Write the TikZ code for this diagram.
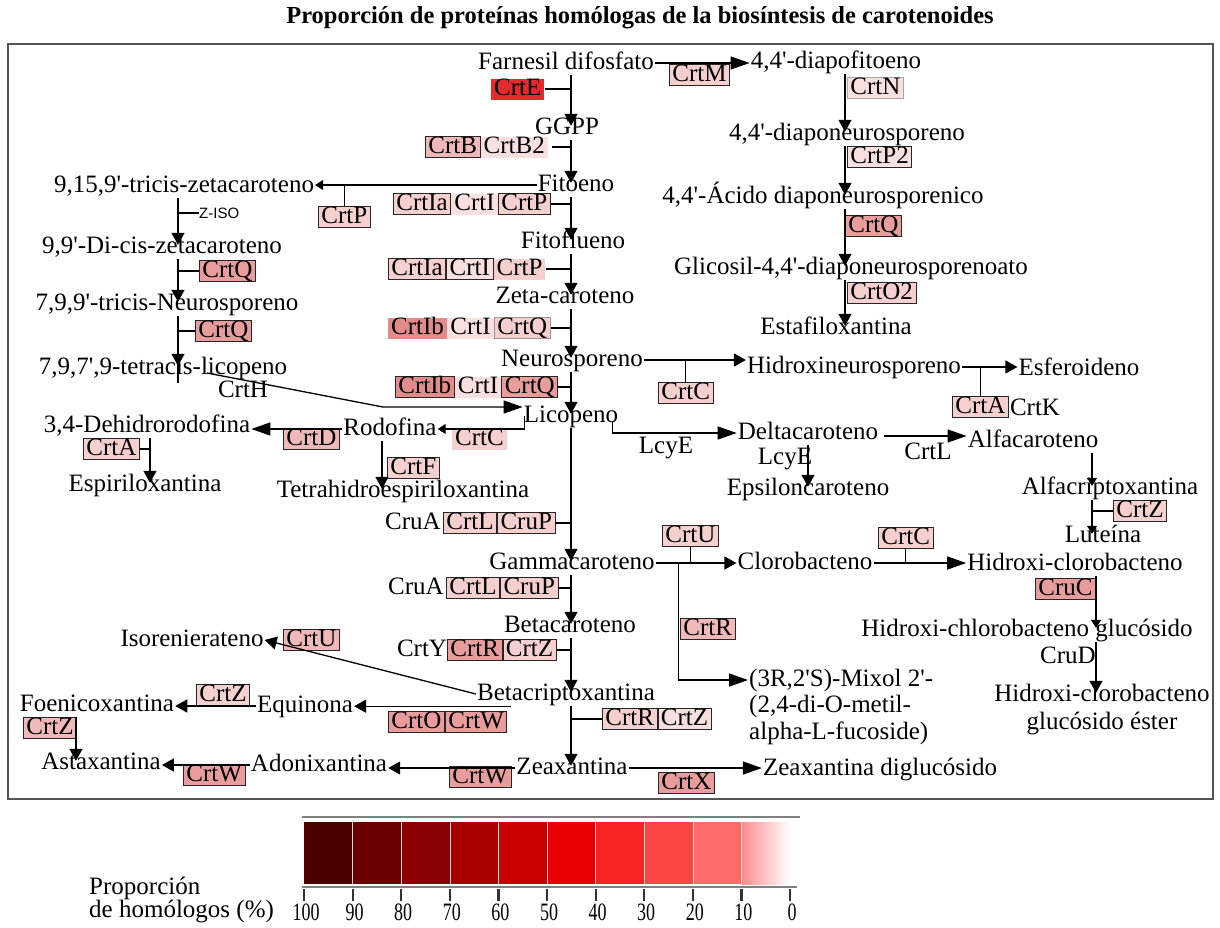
\documentclass[tikz,border=0pt]{standalone}
\usepackage{fontspec}
\newfontfamily\rf{Liberation Serif}
\newfontfamily\zs{Liberation Sans}
\usetikzlibrary{arrows.meta,calc}

% enzyme box fills (share of homologous proteins)
\definecolor{pk0}{HTML}{F9E0E0}
\definecolor{pk1}{HTML}{F6CFCF}
\definecolor{pk2}{HTML}{F0B9B9}
\definecolor{pk3}{HTML}{E89C9C}
\definecolor{pk4}{HTML}{E38A8A}
\definecolor{pkE}{HTML}{E42A2A}
% colour scale of the legend
\definecolor{lg0}{HTML}{4D0000}
\definecolor{lg1}{HTML}{6B0000}
\definecolor{lg2}{HTML}{8B0000}
\definecolor{lg3}{HTML}{A80000}
\definecolor{lg4}{HTML}{C80000}
\definecolor{lg5}{HTML}{E80000}
\definecolor{lg6}{HTML}{F82424}
\definecolor{lg7}{HTML}{FC4646}
\definecolor{lg8}{HTML}{FD6A6A}
\definecolor{lg9}{HTML}{FF8C8C}
\definecolor{framegray}{HTML}{555555}

\begin{document}
\begin{tikzpicture}[x=1pt,y=-1pt,
  every node/.style={inner sep=0pt},
  lbl/.style={font=\rf\fontsize{25}{27}\selectfont, text height=17pt, text depth=5pt, inner xsep=1pt, inner ysep=1pt},
  enz/.style={font=\rf\fontsize{25}{27}\selectfont, text height=16pt, text depth=4pt, inner xsep=3pt, inner ysep=0.5pt, anchor=west},
  bx/.style={enz, draw=black!85, line width=0.9pt},
  ttl/.style={font=\rf\bfseries\fontsize{24.5}{28}\selectfont},
  ln/.style={line width=1.3pt, black},
  arr/.style={ln, -{Triangle[length=12pt,width=13pt]}},
  arrL/.style={ln, -{Triangle[length=19pt,width=13pt]}},
  arrS/.style={ln, -{Triangle[length=8pt,width=10pt]}},
  down/.style={shorten >=-10pt},
  num/.style={font=\rf\fontsize{25}{26}\selectfont, text height=16pt, text depth=0pt},
]
\useasboundingbox (0,0) rectangle (1220,927);
\fill[white] (0,0) rectangle (1220,927);

\node[ttl] (title) at (640,18) {Proporción de proteínas homólogas de la biosíntesis de carotenoides};
\draw[framegray, line width=2pt] (8,44) rectangle (1213,799);

% vertical guide positions
\coordinate (cx) at (571,0);
\coordinate (kx) at (845,0);
\coordinate (zx) at (178,0);
\coordinate (ax) at (150,0);
\coordinate (rx) at (382,0);
\coordinate (lx) at (1092,0);
\coordinate (hx) at (1096,0);
\coordinate (fx) at (76,0);

% ---------- metabolites ----------
\node[lbl] (fpp)   at (566,63)  {Farnesil difosfato};
\node[lbl] (ggpp)  at (567,128) {GGPP};
\node[lbl] (fito)  at (576,185) {Fitoeno};
\node[lbl] (fitf)  at (573,242) {Fitoflueno};
\node[lbl] (zeta)  at (565,297) {Zeta-caroteno};
\node[lbl] (neur)  at (572,360) {Neurosporeno};
\node[lbl] (lico)  at (571,416) {Licopeno};
\node[lbl] (gamma) at (572,563) {Gammacaroteno};
\node[lbl] (beta)  at (570,626) {Betacaroteno};
\node[lbl] (bcx)   at (566,694) {Betacriptoxantina};
\node[lbl] (zea)   at (572,768) {Zeaxantina};

\node[lbl] (dpf)   at (836,62)  {4,4'-diapofitoeno};
\node[lbl] (dnsp)  at (847,134) {4,4'-diaponeurosporeno};
\node[lbl] (acdn)  at (823,197) {4,4'-Ácido diaponeurosporenico};
\node[lbl] (glc)   at (851,268) {Glicosil-4,4'-diaponeurosporenoato};
\node[lbl] (esta)  at (836,328) {Estafiloxantina};

\node[lbl] (tzc)   at (184,186) {9,15,9'-tricis-zetacaroteno};
\node[lbl] (dcz)   at (162,247) {9,9'-Di-cis-zetacaroteno};
\node[lbl] (tneu)  at (167,304) {7,9,9'-tricis-Neurosporeno};
\node[lbl] (tlic)  at (163,368) {7,9,7',9-tetracis-licopeno};
\node[lbl] (dhr)   at (147,426) {3,4-Dehidrorodofina};
\node[lbl] (espi)  at (145,485) {Espiriloxantina};
\node[lbl] (rodo)  at (390,429) {Rodofina};
\node[lbl] (thes)  at (403,491) {Tetrahidroespiriloxantina};

\node[lbl] (hneu)  at (854,367) {Hidroxineurosporeno};
\node[lbl] (esfe)  at (1079,369) {Esferoideno};
\node[lbl] (delta) at (808,433) {Deltacaroteno};
\node[lbl] (eps)   at (808,489) {Epsiloncaroteno};
\node[lbl] (alfa)  at (1033,441) {Alfacaroteno};
\node[lbl] (alfx)  at (1110,488) {Alfacriptoxantina};
\node[lbl] (lute)  at (1103,536) {Luteína};

\node[lbl] (cloro) at (805,563) {Clorobacteno};
\node[lbl] (hcl)   at (1075,564) {Hidroxi-clorobacteno};
\node[lbl] (hclg)  at (1027,630) {Hidroxi-chlorobacteno glucósido};
\node[lbl] (hclgA) at (1102,695) {Hidroxi-clorobacteno};
\node[lbl] (hclgB) at (1102,723) {glucósido éster};
\node[lbl, anchor=west] (mix1) at (748,680) {(3R,2'S)-Mixol 2'-};
\node[lbl, anchor=west] (mix2) at (748,706) {(2,4-di-O-metil-};
\node[lbl, anchor=west] (mix3) at (748,733) {alpha-L-fucoside)};
\node[lbl] (zdg)   at (880,769) {Zeaxantina diglucósido};

\node[lbl] (isor)  at (192,640) {Isorenierateno};
\node[lbl] (equi)  at (305,706) {Equinona};
\node[lbl] (foen)  at (97,705)  {Foenicoxantina};
\node[lbl] (ador)  at (319,765) {Adonixantina};
\node[lbl] (asta)  at (101,763) {Astaxantina};

% ---------- enzyme names without box ----------
\node[lbl] (cruA1) at (413,523) {CruA};
\node[lbl] (cruA2) at (416,588) {CruA};
\node[lbl] (crtY)  at (422,650) {CrtY};
\node[lbl] (crtH)  at (243,391) {CrtH};
\node[lbl] (lcy1)  at (666,447) {LcyE};
\node[lbl] (lcy2)  at (785,458) {LcyE};
\node[lbl] (crtLt) at (928,453) {CrtL};
\node[lbl] (crtK)  at (1035,409) {CrtK};
\node[lbl] (cruD)  at (1068,657) {CruD};
\node[font=\zs\fontsize{15}{17}\selectfont, anchor=west] (ziso) at (199,213) {Z-ISO};

% ---------- enzyme boxes ----------
\node[enz, fill=pkE] (bE) at (491,89) {CrtE};
\node[bx, fill=pk1] (bM) at (669,75) {CrtM};
\node[bx, fill=pk0, draw=black!35] (bN) at (847,88) {CrtN};
\node[bx, fill=pk2] (bB) at (425,147) {CrtB};
\node[enz, fill=pk0] (bB2) at (bB.east) {CrtB2};
\node[bx, fill=pk1] (bPl) at (318,217) {CrtP};

\node[bx, fill=pk1] (r1a) at (393,204) {CrtIa};
\node[enz, fill=pk0] (r1b) at (r1a.east) {CrtI};
\node[bx, fill=pk1] (r1c) at (r1b.east) {CrtP};

\node[bx, fill=pk1] (r2a) at (388,269) {CrtIa};
\node[bx, fill=pk0] (r2b) at (r2a.east) {CrtI};
\node[enz, fill=pk1] (r2c) at (r2b.east) {CrtP};

\node[enz, fill=pk4] (r3a) at (388,328) {CrtIb};
\node[enz, fill=pk0] (r3b) at (r3a.east) {CrtI};
\node[bx, fill=pk1, draw=black!40] (r3c) at (r3b.east) {CrtQ};

\node[bx, fill=pk4] (r4a) at (395,387) {CrtIb};
\node[enz, fill=pk0] (r4b) at (r4a.east) {CrtI};
\node[bx, fill=pk3] (r4c) at (r4b.east) {CrtQ};

\node[bx, fill=pk0] (bP2) at (847,157) {CrtP2};
\node[bx, fill=pk3] (bQr) at (845,226) {CrtQ};
\node[bx, fill=pk1] (bO2) at (847,293) {CrtO2};

\node[bx, fill=pk3] (bQ1) at (199,271) {CrtQ};
\node[bx, fill=pk3] (bQ2) at (195,331) {CrtQ};

\node[enz, fill=pk1] (bCl) at (452,439) {CrtC};
\node[bx, fill=pk2] (bD) at (283,439) {CrtD};
\node[bx, fill=pk1] (bAl) at (83,449) {CrtA};
\node[bx, fill=pk1] (bF) at (387,468) {CrtF};

\node[bx, fill=pk1] (bCn) at (658,393) {CrtC};
\node[bx, fill=pk1] (bAr) at (952,407) {CrtA};
\node[bx, fill=pk1] (bZa) at (1113,511) {CrtZ};

\node[bx, fill=pk1] (g1) at (443,523) {CrtL};
\node[bx, fill=pk1] (g2) at (g1.east) {CruP};
\node[bx, fill=pk1] (h1) at (446,588) {CrtL};
\node[bx, fill=pk1] (h2) at (h1.east) {CruP};
\node[bx, fill=pk3] (k1) at (447,650) {CrtR};
\node[bx, fill=pk1] (k2) at (k1.east) {CrtZ};
\node[bx, fill=pk1] (z1) at (602,719) {CrtR};
\node[bx, fill=pk0] (z2) at (z1.east) {CrtZ};

\node[bx, fill=pk1] (bUg) at (662,536) {CrtU};
\node[bx, fill=pk2] (bRg) at (680,629) {CrtR};
\node[bx, fill=pk1] (bCc) at (878,538) {CrtC};
\node[bx, fill=pk3] (bCruC) at (1035,589) {CruC};

\node[bx, fill=pk3] (e1) at (388,722) {CrtO};
\node[bx, fill=pk3] (e2) at (e1.east) {CrtW};
\node[bx, fill=pk2] (bUi) at (283,640) {CrtU};
\node[bx, fill=pk1] (bZf) at (196,695) {CrtZ};
\node[bx, fill=pk2] (bZl) at (23,728) {CrtZ};
\node[bx, fill=pk3] (bWz) at (449,777) {CrtW};
\node[bx, fill=pk3] (bWa) at (183,775) {CrtW};
\node[bx, fill=pk3] (bX) at (658,783) {CrtX};

% ---------- main chain ----------
\draw[arr,down] (fpp.south -| cx) -- (ggpp.north -| cx);
\draw[ln] (bE.east) -- (bE.east -| cx);
\draw[arr,down] (ggpp.south -| cx) -- (fito.north -| cx);
\draw[ln] ($(bB2.east)+(4,0)$) -- (bB2.east -| cx);
\draw[arr,down] (fito.south -| cx) -- (fitf.north -| cx);
\draw[ln] (r1c.east) -- (r1c.east -| cx);
\draw[arr,down] (fitf.south -| cx) -- (zeta.north -| cx);
\draw[ln] (r2c.east) -- (r2c.east -| cx);
\draw[arr,down] (zeta.south -| cx) -- (neur.north -| cx);
\draw[ln] (r3c.east) -- (r3c.east -| cx);
\draw[arr,down] (neur.south -| cx) -- (lico.north -| cx);
\draw[ln] (r4c.east) -- (r4c.east -| cx);
\draw[arr,down] (lico.south -| cx) -- (gamma.north -| cx);
\draw[ln] (g2.east) -- (g2.east -| cx);
\draw[arr,down] (gamma.south -| cx) -- (beta.north -| cx);
\draw[ln] (h2.east) -- (h2.east -| cx);
\draw[arr,down] (beta.south -| cx) -- (bcx.north -| cx);
\draw[ln] (k2.east) -- (k2.east -| cx);
\draw[arr,down] (bcx.south -| cx) -- (zea.north -| cx);
\draw[ln] (z1.west) -- (z1.west -| cx);

% ---------- diapocarotenoid branch ----------
\draw[arrL] (fpp.east) -- (fpp.east -| dpf.west);
\draw[arr,down] (dpf.south -| kx) -- (dnsp.north -| kx);
\draw[arr,down] (dnsp.south -| kx) -- (acdn.north -| kx);
\draw[arr,down] (acdn.south -| kx) -- (glc.north -| kx);
\draw[arr,down] (glc.south -| kx) -- (esta.north -| kx);

% ---------- poly-cis branch ----------
\draw[arrS] (fito.west) -- (fito.west -| tzc.east);
\draw[ln] (bPl.north) -- (bPl.north |- fito.west);
\draw[arr,down] (tzc.south -| zx) -- (dcz.north -| zx);
\draw[ln] (ziso.west) -- (ziso.west -| zx);
\draw[arr,down] (dcz.south -| zx) -- (tneu.north -| zx);
\draw[ln] (bQ1.west) -- (bQ1.west -| zx);
\draw[arr,down] (tneu.south -| zx) -- (tlic.north -| zx);
\draw[ln] (bQ2.west) -- (bQ2.west -| zx);
\coordinate (tlc) at (tlic.center -| zx);
\draw[ln] ($(tlc)+(0,-6)$) -- ($(tlc)+(0,15)$);
\coordinate (hs) at (207,373);
\coordinate (hb) at (383,407);
\draw[arrL] (hs) -- (hb) -- (lico.west |- hb);

% ---------- rhodopin branch ----------
\draw[arrS] ($(lico.west)+(2,0)$) |- (rodo.east);
\draw[arrL] (rodo.west) -- (rodo.west -| dhr.east);
\draw[arr,down] (dhr.south -| ax) -- (espi.north -| ax);
\draw[ln] (bAl.east) -- (bAl.east -| ax);
\draw[arr,down] (rodo.south -| rx) -- (thes.north -| rx);

% ---------- spheroidene branch ----------
\draw[arr] (neur.east) -- (neur.east -| hneu.west);
\draw[ln] (bCn.north) -- (bCn.north |- neur.east);
\draw[arr] (hneu.east) -- (hneu.east -| esfe.west);
\draw[ln] (bAr.north) -- (bAr.north |- hneu.east);

% ---------- epsilon / alpha branch ----------
\draw[arrL] ($(lico.east)+(-7,5)$) |- (delta.west);
\draw[arr,down] (delta.south) -- (eps.north);
\coordinate (da) at ($(delta.east)+(5,3)$);
\draw[arrL] (da) -- (da -| alfa.west);
\draw[arrS,down] (alfa.south -| lx) -- (alfx.north -| lx);
\draw[arrS,down] (alfx.south -| lx) -- (lute.north -| lx);
\draw[ln] (bZa.west) -- (bZa.west -| lx);

% ---------- chlorobactene branch ----------
\draw[arr] (gamma.east) -- (gamma.east -| cloro.west);
\draw[ln] (bUg.south) -- (bUg.south |- gamma.east);
\draw[arrL] ($(gamma.east)+(23,0)$) |- (mix1.west);
\draw[arrL] (cloro.east) -- (cloro.east -| hcl.west);
\draw[ln] (bCc.south) -- (bCc.south |- cloro.east);
\draw[arrS,down] (hcl.south -| hx) -- (hclg.north -| hx);
\draw[arr,down] (hclg.south -| hx) -- (hclgA.north -| hx);

% ---------- ketocarotenoid branch ----------
\draw[arrL] (zea.east) -- (zea.east -| zdg.west);
\draw[arr] (zea.west) -- (zea.west -| ador.east);
\draw[arr] (ador.west) -- (ador.west -| asta.east);
\coordinate (be) at ($(bcx.south west)+(35,0)$);
\draw[arr] (be) -- (be -| equi.east);
\draw[arr] (equi.west) -- (equi.west -| foen.east);
\draw[arr,down] (foen.south -| fx) -- (asta.north -| fx);
\draw[arr] (bcx.west) -- (isor.east);

% ---------- legend ----------
\node[lbl, anchor=west] (legA) at (88,888) {Proporción};
\node[lbl, anchor=west] (legB) at (88,911) {de homólogos (\%)};
\foreach \i/\c in {0/lg0,1/lg1,2/lg2,3/lg3,4/lg4,5/lg5,6/lg6,7/lg7,8/lg8}
  \fill[\c] ({304+48.6*\i},822) rectangle ({304+48.6*(\i+1)},884);
\shade[left color=lg9, right color=white] ({304+48.6*9},822) rectangle (790,884);
\foreach \i in {1,...,9}
  \draw[white!85!red, line width=0.6pt] ({304+48.6*\i},822) -- ({304+48.6*\i},884);
\draw[gray, line width=1.3pt] (302,817) -- (800,817);
\draw[gray, line width=1.3pt] (302,887) -- (797,887);
\foreach \i/\t in {0/100,1/90,2/80,3/70,4/60,5/50,6/40,7/30,8/20,9/10,10/0} {
  \draw[black!80, line width=2.2pt] ({304+48.6*\i},889) -- ({304+48.6*\i},901);
  \node[num] (tk\i) at ({306+48.6*\i},912) {\scalebox{0.72}[1]{\t}};
}
\end{tikzpicture}
\end{document}
